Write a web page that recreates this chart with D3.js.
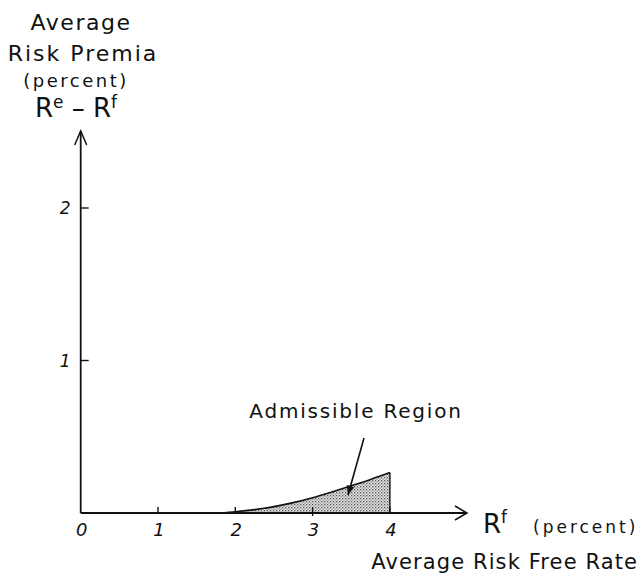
<!DOCTYPE html>
<html>
<head>
<meta charset="utf-8">
<script src="https://cdn.jsdelivr.net/npm/d3@7"></script>
<style>
  body { margin: 0; background: #fff; }
  svg { display: block; font-family: "DejaVu Sans", sans-serif; }
</style>
</head>
<body>
<svg id="chart"></svg>
<script>
const width = 643;
const height = 576;

// boundary of the admissible region (risk free rate, risk premia)
const boundaryRf = [1.8, 2.0, 2.25, 2.5, 2.75, 3.0, 3.25, 3.5, 3.75, 4.0];
const boundaryPremia = [0, 0.008, 0.022, 0.042, 0.068, 0.1, 0.138, 0.178, 0.22, 0.265];

const xTicks = [0, 1, 2, 3, 4];
const xTickLabels = ["0", "1", "2", "3", "4"];
const yTicks = [1, 2];
const yTickLabels = ["1", "2"];

const svg = d3.select("#chart")
  .attr("width", width)
  .attr("height", height);

const x = d3.scaleLinear().domain([0, 4]).range([80.7, 389.9]);
const y = d3.scaleLinear().domain([0, 2]).range([513, 208]);

const ink = "#111";

// stipple pattern for shaded area
const defs = svg.append("defs");
const pat = defs.append("pattern")
  .attr("id", "dots")
  .attr("width", 3).attr("height", 3)
  .attr("patternUnits", "userSpaceOnUse");
pat.append("rect").attr("width", 3).attr("height", 3).attr("fill", "#e4e4e4");
pat.append("rect").attr("x", 0).attr("y", 0).attr("width", 1.3).attr("height", 1.3).attr("fill", "#555");
pat.append("rect").attr("x", 1.5).attr("y", 1.5).attr("width", 1.2).attr("height", 1.2).attr("fill", "#777");

const pts = boundaryRf.map((d, i) => [d, boundaryPremia[i]]);

// shaded region: curve, axis and vertical at rf = 4
const area = d3.area()
  .x(d => x(d[0]))
  .y0(y(0))
  .y1(d => y(d[1]))
  .curve(d3.curveCatmullRom);

svg.append("path")
  .datum(pts)
  .attr("d", area)
  .attr("fill", "url(#dots)");

svg.append("path")
  .datum(pts)
  .attr("d", d3.line().x(d => x(d[0])).y(d => y(d[1])).curve(d3.curveCatmullRom))
  .attr("fill", "none")
  .attr("stroke", ink)
  .attr("stroke-width", 1.6);

const last = pts[pts.length - 1];
svg.append("line")
  .attr("x1", x(last[0])).attr("x2", x(last[0]))
  .attr("y1", y(0)).attr("y2", y(last[1]))
  .attr("stroke", ink).attr("stroke-width", 1.4);

// axes
const axisG = svg.append("g").attr("stroke", ink).attr("fill", "none").attr("stroke-width", 1.8);
axisG.append("line").attr("x1", x(0)).attr("x2", 466).attr("y1", y(0)).attr("y2", y(0));
axisG.append("path").attr("d", `M455,${y(0) - 7} L467,${y(0)} L455,${y(0) + 7}`).attr("stroke-width", 1.5);
axisG.append("line").attr("x1", x(0)).attr("x2", x(0)).attr("y1", y(0)).attr("y2", 131);
axisG.append("path").attr("d", `M${x(0) - 6},145 L${x(0)},131 L${x(0) + 6},145`).attr("stroke-width", 1.5);

// x ticks
svg.append("g").selectAll("line")
  .data(xTicks.slice(1))
  .join("line")
  .attr("x1", d => x(d)).attr("x2", d => x(d))
  .attr("y1", y(0) - 6).attr("y2", d => d === 3 ? y(0) + 3 : y(0))
  .attr("stroke", ink).attr("stroke-width", 1.4);

svg.append("g").selectAll("text")
  .data(xTicks)
  .join("text")
  .attr("x", d => x(d) + 1)
  .attr("y", 536)
  .attr("text-anchor", "middle")
  .attr("font-size", 18)
  .attr("font-style", "italic")
  .attr("fill", ink)
  .text((d, i) => xTickLabels[i]);

// y ticks
svg.append("g").selectAll("line")
  .data(yTicks)
  .join("line")
  .attr("x1", x(0)).attr("x2", x(0) + 8)
  .attr("y1", d => y(d)).attr("y2", d => y(d))
  .attr("stroke", ink).attr("stroke-width", 1.4);

svg.append("g").selectAll("text")
  .data(yTicks)
  .join("text")
  .attr("x", x(0) - 10)
  .attr("y", d => y(d) + 6)
  .attr("text-anchor", "end")
  .attr("font-size", 17)
  .attr("font-style", "italic")
  .attr("fill", ink)
  .text((d, i) => yTickLabels[i]);

// y axis title
const yt = svg.append("g").attr("fill", ink).attr("text-anchor", "middle");
yt.append("text").attr("x", 81).attr("y", 30).attr("font-size", 22).attr("letter-spacing", 1.5).text("Average");
yt.append("text").attr("x", 83).attr("y", 61).attr("font-size", 22).attr("letter-spacing", 2).text("Risk Premia");
yt.append("text").attr("x", 76).attr("y", 87).attr("font-size", 18).attr("letter-spacing", 2.5).text("(percent)");
const rt = yt.append("text").attr("x", 76).attr("y", 117).attr("font-size", 26);
rt.append("tspan").text("R");
rt.append("tspan").attr("font-size", 17).attr("dy", -9).text("e");
rt.append("tspan").attr("dy", 9).text(" \u2013 R");
rt.append("tspan").attr("font-size", 17).attr("dy", -9).text("f");

// x axis title
const xt = svg.append("text").attr("x", 483).attr("y", 533).attr("fill", ink);
xt.append("tspan").attr("font-size", 26).text("R");
xt.append("tspan").attr("font-size", 17).attr("dy", -10).text("f");
xt.append("tspan").attr("font-size", 17).attr("dy", 10).attr("x", 533).attr("letter-spacing", 3).text("(percent)");

svg.append("text")
  .attr("x", 638).attr("y", 569)
  .attr("text-anchor", "end")
  .attr("font-size", 21)
  .attr("letter-spacing", 1.1)
  .attr("fill", ink)
  .text("Average Risk Free Rate");

// annotation
svg.append("text")
  .attr("x", 356).attr("y", 418)
  .attr("text-anchor", "middle")
  .attr("font-size", 20)
  .attr("letter-spacing", 1.8)
  .attr("fill", ink)
  .text("Admissible Region");

const ax1 = 364, ay1 = 438, ax2 = 348, ay2 = 495;
svg.append("line")
  .attr("x1", ax1).attr("y1", ay1).attr("x2", ax2).attr("y2", ay2)
  .attr("stroke", ink).attr("stroke-width", 1.6);
const ang = Math.atan2(ay2 - ay1, ax2 - ax1);
const hl = 10;
svg.append("path")
  .attr("d", `M${ax2},${ay2} L${ax2 - hl * Math.cos(ang - 0.4)},${ay2 - hl * Math.sin(ang - 0.4)} L${ax2 - hl * Math.cos(ang + 0.4)},${ay2 - hl * Math.sin(ang + 0.4)} Z`)
  .attr("fill", ink);
</script>
</body>
</html>
